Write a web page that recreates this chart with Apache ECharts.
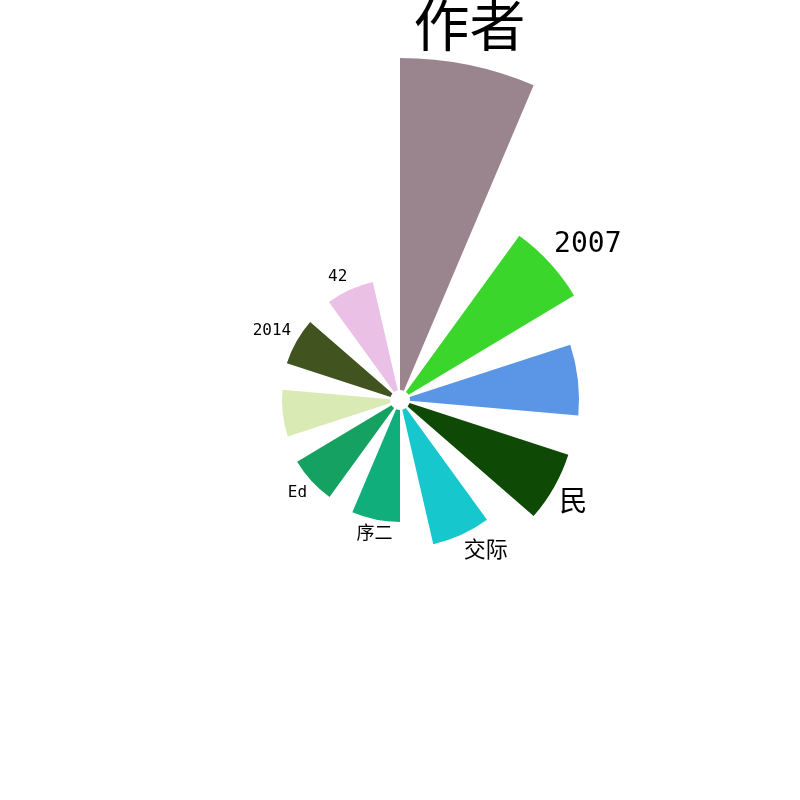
<!DOCTYPE html>
<html>
<head>
<meta charset="utf-8">
<script src="https://cdn.jsdelivr.net/npm/echarts@6/dist/echarts.min.js"></script>
<style>html,body{margin:0;padding:0;background:#fff}#container{width:800px;height:800px}</style>
</head>
<body>
<div id="container"></div>
<script>
var names = ['作者', '2007', '跨文化', '民族', '交际', '序二', 'Ed', 'NewYork', '2014', '42'];
var values = [332, 193, 169, 167, 138, 112, 110, 108, 109, 111];
var colors = ['#9a858f', '#3bd62b', '#5b95e5', '#0e4a05', '#16c7cd', '#0fae7a', '#15a162', '#d9eab5', '#41541f', '#eac0e6'];
var fontSizes = [56, 28, 28, 28, 22, 18, 16, 16, 16, 16];

var myChart = echarts.init(document.getElementById('container'));

var cx = 400, cy = 400, r0 = 10, r1 = 342;
var maxV = Math.max.apply(null, values);

var data = [];
for (var i = 0; i < names.length; i++) {
    data.push({
        name: names[i],
        value: values[i],
        itemStyle: { color: colors[i] },
        label: { fontSize: fontSizes[i] }
    });
}

// put each label just past its own slice's outer edge
function placeLabel(params) {
    var i = params.dataIndex;
    var step = 360 / names.length;
    var a = (i * step + (step - 13) / 2) * Math.PI / 180;
    var r = r0 + (r1 - r0) * values[i] / maxV + 6;
    var s = Math.sin(a), c = Math.cos(a);
    return {
        x: cx + r * s,
        y: cy - r * c,
        align: Math.abs(s) < 0.3 ? 'center' : (s > 0 ? 'left' : 'right'),
        verticalAlign: Math.abs(c) < 0.3 ? 'middle' : (c > 0 ? 'bottom' : 'top')
    };
}

option = {
    animation: false,
    series: [{
        type: 'pie',
        roseType: 'area',
        center: [cx, cy],
        radius: [r0, r1],
        startAngle: 96.5,
        padAngle: 13,
        label: {
            show: true,
            position: 'outside',
            color: '#000',
            fontFamily: 'DejaVu Sans Mono, Noto Sans CJK SC, sans-serif'
        },
        labelLine: { show: false },
        labelLayout: placeLabel,
        data: data
    }]
};
myChart.setOption(option);
</script>
</body>
</html>
